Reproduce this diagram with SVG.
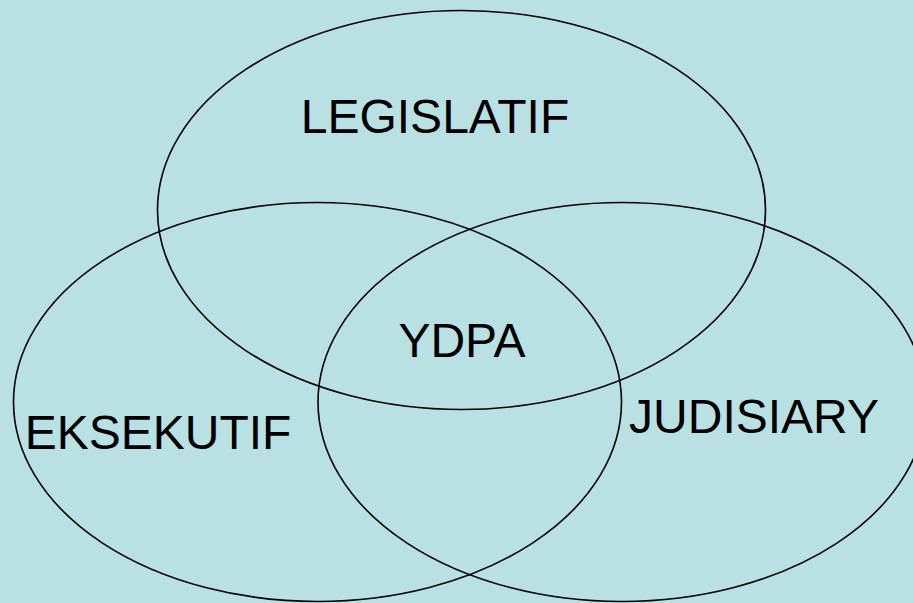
<svg xmlns="http://www.w3.org/2000/svg" width="913" height="603" viewBox="0 0 913 603">
<style>
.c{fill:none;stroke:#000;stroke-width:1.6}
.t{font-family:"Liberation Sans",Arial,sans-serif;font-size:48px;fill:#000;text-anchor:middle}
</style>
<rect width="913" height="603" fill="#B9E0E3"/>
<g id="connectors"/>
<g id="legislatif"><ellipse class="c" cx="461.5" cy="210" rx="304" ry="199.5"/><text class="t" x="435" y="133">LEGISLATIF</text></g>
<g id="eksekutif"><ellipse class="c" cx="317.5" cy="402" rx="304" ry="199.5"/><text class="t" x="158" y="449">EKSEKUTIF</text></g>
<g id="judisiary"><ellipse class="c" cx="622" cy="402" rx="304" ry="199.5"/><text class="t" x="754" y="433">JUDISIARY</text></g>
<g id="ydpa"><text class="t" x="462" y="357">YDPA</text></g>
</svg>
